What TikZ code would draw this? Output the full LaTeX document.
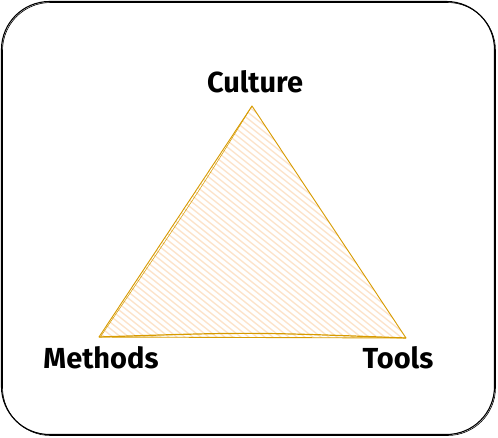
\documentclass[tikz,border=0pt]{standalone}
\usepackage{fontspec}
\setmainfont{Fira Sans}
\definecolor{tristroke}{HTML}{D79B00}
\definecolor{trihatch}{HTML}{FCE3CA}
\begin{document}
\begin{tikzpicture}[x=1pt,y=-1pt,
  label/.style={font=\fontsize{29}{32}\selectfont\bfseries, text=black, inner sep=0pt},
  frame/.style={draw=black, line width=1.1pt, rounded corners=48pt},
  tri/.style={draw=tristroke, line width=0.9pt, line join=round}]
\useasboundingbox (0,0) rectangle (498,437);
% outer sketch frame
\draw[frame] (1.5,1.5) rectangle (494.5,434.5);
\draw[frame, line width=0.6pt] (2.5,2.5) rectangle (495.5,435.5);
% triangle corners
\coordinate (top) at (252,106);
\coordinate (bl) at (99,337);
\coordinate (br) at (406,338);
% hachure fill
\begin{scope}
  \clip (top) -- (br) -- (bl) -- cycle;
  \foreach \k in {-260,-252,...,420} {
    \draw[trihatch, line width=1.4pt] (\k,90) -- ++(320,256);
  }
\end{scope}
\draw[tri] (top) -- (br) -- (bl) -- cycle;
\draw[tri, line width=0.5pt] (top) .. controls (200,190) .. (101,336);
\draw[tri, line width=1.2pt] (bl) .. controls (250,332) .. (br);
% labels
\node[label] (culture) at (255,82) {Culture};
\node[label] (methods) at (101,358) {Methods};
\node[label] (tools) at (398,358) {Tools};
\end{tikzpicture}
\end{document}
